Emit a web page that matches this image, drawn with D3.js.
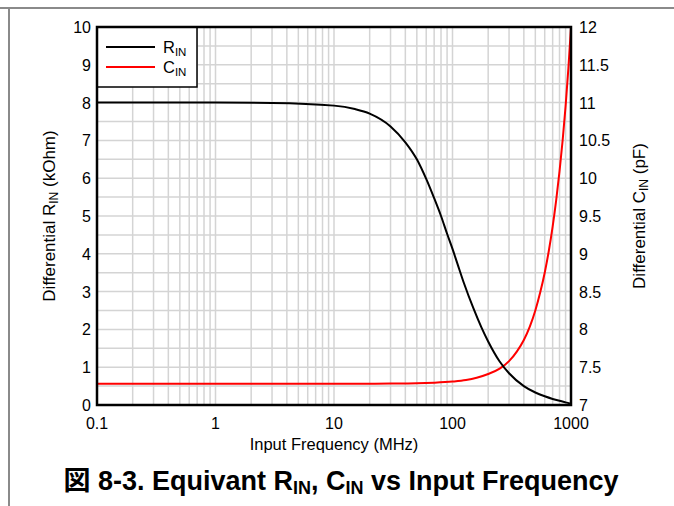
<!DOCTYPE html>
<html><head><meta charset="utf-8">
<script src="https://cdn.jsdelivr.net/npm/d3@7"></script>
<style>body{margin:0;background:#fff}svg{display:block}text{font-family:"Liberation Sans",Arial,sans-serif}</style>
</head><body><svg id="c" width="674" height="506"></svg>
<script>
const freqR = [0.1, 1, 3, 10, 15, 20, 30, 40, 50, 60, 70, 80, 90, 100, 110, 125, 150, 175, 200, 250, 300, 400, 500, 600, 700, 800, 900, 1000];
const rinValues = [8.0, 8.0, 7.99, 7.92, 7.83, 7.71, 7.37, 6.95, 6.5, 5.98, 5.47, 5.0, 4.53, 4.13, 3.74, 3.22, 2.56, 2.06, 1.68, 1.15, 0.84, 0.5, 0.33, 0.23, 0.16, 0.11, 0.07, 0.03];
const freqC = [0.1, 10, 30, 50, 70, 100, 130, 160, 200, 250, 300, 350, 400, 450, 500, 550, 600, 650, 700, 750, 800, 850, 900, 950, 1000];
const cinValues = [7.28, 7.28, 7.283, 7.287, 7.295, 7.31, 7.33, 7.36, 7.41, 7.48, 7.58, 7.71, 7.86, 8.04, 8.25, 8.49, 8.75, 9.04, 9.36, 9.71, 10.09, 10.5, 10.95, 11.45, 12.0];
const xTicks = [0.1, 1, 10, 100, 1000];
const xTickLabels = ["0.1", "1", "10", "100", "1000"];
const leftTicks = [0,1,2,3,4,5,6,7,8,9,10];
const rightTicks = [7,7.5,8,8.5,9,9.5,10,10.5,11,11.5,12];

const svg = d3.select("#c");
const L=97, R=571, T=27, B=405;
const x = d3.scaleLog().domain([0.1,1000]).range([L,R]);
const yL = d3.scaleLinear().domain([0,10]).range([B,T]);
const yR = d3.scaleLinear().domain([7,12]).range([B,T]);

// page frame lines
svg.append("line").attr("x1",0).attr("x2",674).attr("y1",8).attr("y2",8).attr("stroke","#8a8a8a").attr("stroke-width",2);
svg.append("line").attr("x1",9).attr("x2",9).attr("y1",8).attr("y2",506).attr("stroke","#8a8a8a").attr("stroke-width",2);

// grid
const g = svg.append("g");
const minor = [];
for (let d=-1; d<3; d++) for (let k=1;k<=9;k++) minor.push(k*Math.pow(10,d));
minor.push(1000);
g.selectAll(".vg").data(minor).join("line")
 .attr("x1",d=>x(d)).attr("x2",d=>x(d)).attr("y1",T).attr("y2",B)
 .attr("stroke","#d4d4d4").attr("stroke-width",1.5);
g.selectAll(".hg").data(d3.range(0,10.01,0.5)).join("line")
 .attr("x1",L).attr("x2",R).attr("y1",d=>yL(d)).attr("y2",d=>yL(d))
 .attr("stroke","#d4d4d4").attr("stroke-width",1.5);

svg.append("clipPath").attr("id","clip").append("rect").attr("x",L).attr("y",T).attr("width",R-L).attr("height",B-T);

const lineR = d3.line().x(d=>x(d[0])).y(d=>yL(d[1])).curve(d3.curveMonotoneX);
const lineC = d3.line().x(d=>x(d[0])).y(d=>yR(d[1])).curve(d3.curveMonotoneX);
svg.append("path").attr("clip-path","url(#clip)").attr("d",lineC(d3.zip(freqC,cinValues))).attr("fill","none").attr("stroke","#ff0000").attr("stroke-width",2);
svg.append("path").attr("clip-path","url(#clip)").attr("d",lineR(d3.zip(freqR,rinValues))).attr("fill","none").attr("stroke","#000").attr("stroke-width",2);

// legend
svg.append("rect").attr("x",L).attr("y",T).attr("width",100).attr("height",60).attr("fill","#fff").attr("stroke","#000").attr("stroke-width",1.5);
const leg = [{c:"#000",m:"R",y:47},{c:"#ff0000",m:"C",y:67}];
leg.forEach(l=>{
  svg.append("line").attr("x1",106).attr("x2",155).attr("y1",l.y).attr("y2",l.y).attr("stroke",l.c).attr("stroke-width",2);
  const t = svg.append("text").attr("x",163).attr("y",l.y+6).attr("font-size",16.5).attr("fill","#000");
  t.append("tspan").text(l.m);
  t.append("tspan").attr("font-size",11.5).attr("dy",3).text("IN");
});

// border
svg.append("rect").attr("x",L).attr("y",T).attr("width",R-L).attr("height",B-T).attr("fill","none").attr("stroke","#000").attr("stroke-width",2.5);

// axes labels
const fs = 16;
svg.selectAll(".lt").data(leftTicks).join("text").attr("x",91).attr("y",d=>yL(d)+6).attr("text-anchor","end").attr("font-size",fs).text(d=>d);
svg.selectAll(".rt").data(rightTicks).join("text").attr("x",579).attr("y",d=>yR(d)+6).attr("text-anchor","start").attr("font-size",fs).text(d=>d);
svg.selectAll(".xt").data(xTicks).join("text").attr("x",d=>x(d)).attr("y",429).attr("text-anchor","middle").attr("font-size",fs).text((d,i)=>xTickLabels[i]);
svg.append("text").attr("x",334).attr("y",450).attr("text-anchor","middle").attr("font-size",16.5).text("Input Frequency (MHz)");

const yl = svg.append("text").attr("transform","translate(55,216) rotate(-90)").attr("text-anchor","middle").attr("font-size",17);
yl.append("tspan").text("Differential R");
yl.append("tspan").attr("font-size",12).attr("dy",3).text("IN");
yl.append("tspan").attr("dy",-3).text(" (kOhm)");

const yr = svg.append("text").attr("transform","translate(645,216) rotate(-90)").attr("text-anchor","middle").attr("font-size",17);
yr.append("tspan").text("Differential C");
yr.append("tspan").attr("font-size",12).attr("dy",3).text("IN");
yr.append("tspan").attr("dy",-3).text(" (pF)");

// title
const tt = svg.append("text").attr("x",341).attr("y",490).attr("text-anchor","middle").attr("font-size",27).attr("font-weight","bold");
tt.append("tspan").attr("font-family","'Noto Sans CJK JP'").text("図");
tt.append("tspan").text(" 8-3. Equivant R");
tt.append("tspan").attr("font-size",18).attr("dy",4).text("IN");
tt.append("tspan").attr("dy",-4).text(", C");
tt.append("tspan").attr("font-size",18).attr("dy",4).text("IN");
tt.append("tspan").attr("dy",-4).text(" vs Input Frequency");
</script></body></html>
